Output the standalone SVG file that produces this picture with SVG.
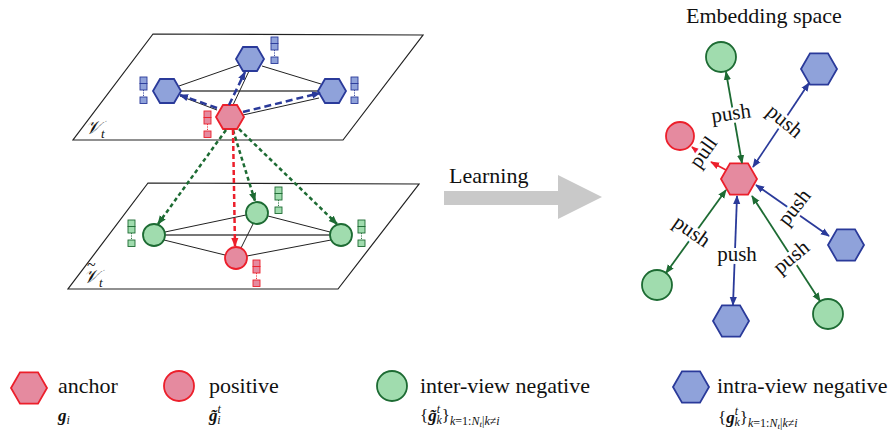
<svg xmlns="http://www.w3.org/2000/svg" width="888" height="432" viewBox="0 0 888 432">
<style>
  .tx { font-family: "Liberation Serif", "Times New Roman", serif; fill: #111; }
  .lbl { font-size: 22px; }
  .push { font-size: 21px; text-anchor: middle; dominant-baseline: central; paint-order: stroke; stroke: #fff; stroke-width: 6px; stroke-linejoin: round; }
  .red { fill: #e58a9f; stroke: #ec1f2b; stroke-width: 1.8; }
  .grn { fill: #a0dcae; stroke: #1d6b33; stroke-width: 1.8; }
  .blu { fill: #8fa2da; stroke: #2a3a9a; stroke-width: 1.8; }
  .fred { fill: #e58a9f; stroke: #ec1f2b; }
  .fgrn { fill: #a0dcae; stroke: #1d6b33; }
  .fblu { fill: #8fa2da; stroke: #2a3a9a; }
  .plane { fill: none; stroke: #222; stroke-width: 1.2; }
  .edge { stroke: #222; stroke-width: 1; }
  .hedge { stroke: #777; stroke-width: 2; }
  .dblu { stroke: #2a3a9a; stroke-width: 2.5; stroke-dasharray: 7 4; fill: none; marker-end: url(#dB); }
  .dgrn { stroke: #1d6b33; stroke-width: 2.5; stroke-dasharray: 4 3; fill: none; marker-end: url(#dG); }
  .dred { stroke: #ec1f2b; stroke-width: 2.5; stroke-dasharray: 5 3; fill: none; marker-end: url(#dR); }
  .cg { stroke: #1d6b33; stroke-width: 1.8; marker-start: url(#aG); marker-end: url(#aG); }
  .cb { stroke: #2a3a9a; stroke-width: 1.8; marker-start: url(#aB); marker-end: url(#aB); }
  .cr { stroke: #ec1f2b; stroke-width: 1.8; marker-end: url(#aR); }
  .bi { font-weight: bold; font-style: italic; }
  .it { font-style: italic; }
</style>
<defs>
  <marker id="aG" viewBox="0 0 10 10" refX="9" refY="5" markerWidth="9" markerHeight="9" orient="auto-start-reverse" markerUnits="userSpaceOnUse"><path d="M0,1 L10,5 L0,9 z" fill="#1d6b33"/></marker>
  <marker id="aB" viewBox="0 0 10 10" refX="9" refY="5" markerWidth="9" markerHeight="9" orient="auto-start-reverse" markerUnits="userSpaceOnUse"><path d="M0,1 L10,5 L0,9 z" fill="#2a3a9a"/></marker>
  <marker id="aR" viewBox="0 0 10 10" refX="9" refY="5" markerWidth="9" markerHeight="9" orient="auto-start-reverse" markerUnits="userSpaceOnUse"><path d="M0,1 L10,5 L0,9 z" fill="#ec1f2b"/></marker>
  <marker id="dB" viewBox="0 0 10 10" refX="9" refY="5" markerWidth="9" markerHeight="9" orient="auto" markerUnits="userSpaceOnUse"><path d="M0,1 L10,5 L0,9 z" fill="#2a3a9a"/></marker>
  <marker id="dG" viewBox="0 0 10 10" refX="9" refY="5" markerWidth="9" markerHeight="9" orient="auto" markerUnits="userSpaceOnUse"><path d="M0,1 L10,5 L0,9 z" fill="#1d6b33"/></marker>
  <marker id="dR" viewBox="0 0 10 10" refX="9" refY="5" markerWidth="9" markerHeight="9" orient="auto" markerUnits="userSpaceOnUse"><path d="M0,1 L10,5 L0,9 z" fill="#ec1f2b"/></marker>
  <polygon id="hexS" points="-14,0 -7,-12 7,-12 14,0 7,12 -7,12"/>
  <polygon id="hexL" points="-18,0 -9,-15.6 9,-15.6 18,0 9,15.6 -9,15.6"/>
  <g id="feat" stroke-width="0.9">
    <rect x="0" y="0" width="7" height="6.5"/>
    <rect x="0" y="6.5" width="7" height="6.5"/>
    <line x1="3.5" y1="13" x2="3.5" y2="20" stroke-dasharray="1.2 1.2"/>
    <rect x="0" y="20" width="7" height="6.5"/>
  </g>
</defs>
<g id="plane-top">
  <polygon class="plane" points="153,34 423,35 343,140 73,140"/>
  <text class="tx" x="85" y="134" font-size="19" font-style="italic">𝒱<tspan font-size="13" dy="4">t</tspan></text>
</g>
<g id="plane-bottom">
  <polygon class="plane" points="148,183 419,184 338,289 68,289"/>
  <text class="tx" x="87" y="270" font-size="16">~<tspan x="83" y="283" font-size="19" font-style="italic">𝒱</tspan><tspan font-size="13" font-style="italic" dy="4">t</tspan></text>
</g>
<g id="graph-edges">
  <line class="edge" x1="179" y1="86" x2="239" y2="65"/>
  <line class="edge" x1="262" y1="66" x2="321" y2="84"/>
  <line class="hedge" x1="181" y1="91" x2="318" y2="91"/>
  <line class="edge" x1="249" y1="71" x2="233" y2="105"/>
  <line class="edge" x1="243" y1="115" x2="319" y2="98"/>
  <line class="edge" x1="180" y1="96" x2="217" y2="110"/>
  <line class="edge" x1="165" y1="232" x2="246" y2="215"/>
  <line class="hedge" x1="165" y1="235" x2="330" y2="235"/>
  <line class="edge" x1="268" y1="216" x2="330" y2="232"/>
  <line class="edge" x1="253" y1="224" x2="241" y2="248"/>
  <line class="edge" x1="164" y1="240" x2="225" y2="255"/>
  <line class="edge" x1="247" y1="256" x2="331" y2="240"/>
</g>
<g id="v-top"><use href="#hexS" x="250" y="59" class="blu"/><use href="#feat" x="271" y="37" class="fblu"/></g>
<g id="v-left"><use href="#hexS" x="167" y="91" class="blu"/><use href="#feat" x="140" y="77" class="fblu"/></g>
<g id="v-right"><use href="#hexS" x="332" y="91" class="blu"/><use href="#feat" x="351" y="77" class="fblu"/></g>
<g id="v-anchor"><use href="#hexS" x="230" y="117" class="red"/><use href="#feat" x="204" y="111" class="fred"/></g>
<g id="u-left"><circle cx="154" cy="235" r="11" class="grn"/><use href="#feat" x="128" y="220" class="fgrn"/></g>
<g id="u-top"><circle cx="257" cy="213" r="11" class="grn"/><use href="#feat" x="275" y="187" class="fgrn"/></g>
<g id="u-right"><circle cx="341" cy="235" r="11" class="grn"/><use href="#feat" x="358" y="220" class="fgrn"/></g>
<g id="u-pos"><circle cx="236" cy="258" r="11" class="red"/><use href="#feat" x="253" y="260" class="fred"/></g>
<g id="learning">
  <polygon points="444,191 558,191 558,175 602,197 558,219 558,205 444,205" fill="#c9c9c9"/>
  <text class="tx lbl" x="449" y="183">Learning</text>
</g>
<g id="emb-title"><text class="tx lbl" x="686" y="23">Embedding space</text></g>
<g id="e-anchor"><use href="#hexL" x="739" y="179" class="red"/></g>
<g id="e-g1"><circle cx="721" cy="57" r="15" class="grn"/></g>
<g id="e-b1"><use href="#hexL" x="819" y="69" class="blu"/></g>
<g id="e-pos"><circle cx="680" cy="136" r="14" class="red"/></g>
<g id="e-b2"><use href="#hexL" x="846" y="245" class="blu"/></g>
<g id="e-g2"><circle cx="657" cy="285" r="15" class="grn"/></g>
<g id="e-b3"><use href="#hexL" x="731" y="321" class="blu"/></g>
<g id="e-g3"><circle cx="828" cy="314" r="15" class="grn"/></g>
<g id="connectors">
  <line class="dblu" x1="217" y1="108" x2="180" y2="95"/>
  <line class="dblu" x1="229" y1="105" x2="245" y2="72"/>
  <line class="dblu" x1="243" y1="112" x2="320" y2="93"/>
  <line class="dgrn" x1="226" y1="130" x2="158" y2="224"/>
  <line class="dgrn" x1="233" y1="130" x2="255" y2="201"/>
  <line class="dgrn" x1="239" y1="129" x2="337" y2="224"/>
  <line class="dred" x1="233" y1="130" x2="235" y2="246"/>
  <line class="cg" x1="726" y1="72" x2="742" y2="163"/>
  <line class="cb" x1="809" y1="83" x2="753" y2="167"/>
  <line class="cb" x1="829" y1="236" x2="756" y2="185"/>
  <line class="cg" x1="752" y1="196" x2="820" y2="301"/>
  <line class="cb" x1="737" y1="196" x2="733" y2="305"/>
  <line class="cg" x1="726" y1="190" x2="666" y2="273"/>
  <line class="cr" x1="726" y1="170" x2="711" y2="162"/>
  <line class="cr" x1="708" y1="160" x2="692" y2="147"/>
  <text class="tx push" transform="translate(731,113) rotate(-8)">push</text>
  <text class="tx push" transform="translate(785,121) rotate(40)">push</text>
  <text class="tx push" transform="translate(703,152) rotate(-55)">pull</text>
  <text class="tx push" transform="translate(692,231) rotate(35)">push</text>
  <text class="tx push" transform="translate(737,254)">push</text>
  <text class="tx push" transform="translate(794,207) rotate(-52)">push</text>
  <text class="tx push" transform="translate(791,257) rotate(-40)">push</text>
</g>
<g id="leg-anchor">
  <use href="#hexL" x="29" y="388" class="red"/>
  <text class="tx lbl" x="58" y="393">anchor</text>
  <text class="tx" x="58" y="421" font-size="17"><tspan class="bi">g</tspan><tspan class="it" font-size="12" dy="3">i</tspan></text>
</g>
<g id="leg-positive">
  <circle cx="179" cy="386" r="15" class="red"/>
  <text class="tx lbl" x="209" y="393">positive</text>
  <text class="tx" x="209" y="421" font-size="17"><tspan class="bi">g̃</tspan><tspan class="it" font-size="12" dy="-8">t</tspan><tspan class="it" font-size="12" dx="-3.5" dy="11">i</tspan></text>
</g>
<g id="leg-inter">
  <circle cx="392" cy="386" r="15" class="grn"/>
  <text class="tx lbl" x="420" y="393">inter-view negative</text>
  <text class="tx" x="420" y="421" font-size="17">{<tspan class="bi">g̃</tspan><tspan class="it" font-size="12" dy="-8">t</tspan><tspan class="it" font-size="12" dx="-3.5" dy="11">k</tspan><tspan dy="-3">}</tspan><tspan font-size="12" dy="4"><tspan class="it">k</tspan>=1:<tspan class="it">N</tspan></tspan><tspan class="it" font-size="9" dy="2">t</tspan><tspan font-size="12" dy="-2">|<tspan class="it">k</tspan>≠<tspan class="it">i</tspan></tspan></text>
</g>
<g id="leg-intra">
  <use href="#hexL" x="691" y="387" class="blu"/>
  <text class="tx lbl" x="717" y="393">intra-view negative</text>
  <text class="tx" x="718" y="423" font-size="17">{<tspan class="bi">g</tspan><tspan class="it" font-size="12" dy="-8">t</tspan><tspan class="it" font-size="12" dx="-3.5" dy="11">k</tspan><tspan dy="-3">}</tspan><tspan font-size="12" dy="4"><tspan class="it">k</tspan>=1:<tspan class="it">N</tspan></tspan><tspan class="it" font-size="9" dy="2">t</tspan><tspan font-size="12" dy="-2">|<tspan class="it">k</tspan>≠<tspan class="it">i</tspan></tspan></text>
</g>
</svg>
